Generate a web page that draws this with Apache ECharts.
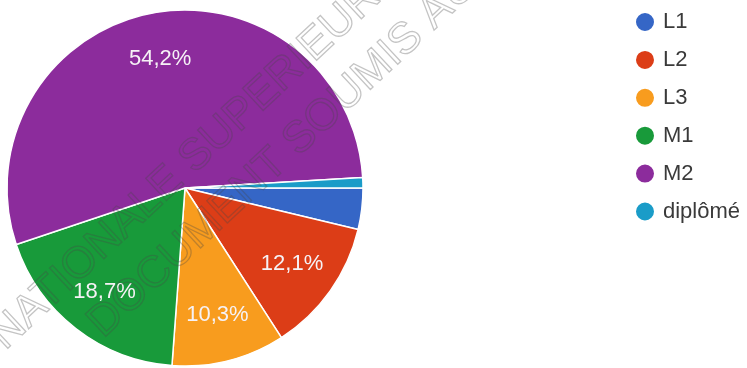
<!DOCTYPE html>
<html>
<head>
<meta charset="utf-8">
<script src="https://cdn.jsdelivr.net/npm/echarts@6/dist/echarts.min.js"></script>
<style>
  html, body { margin: 0; padding: 0; background: #ffffff; }
  #chart { width: 747px; height: 368px; }
</style>
</head>
<body>
<div id="chart"></div>
<script>
// Respondents by level of study (counts)
const categories = ['L1', 'L2', 'L3', 'M1', 'M2', 'diplômé'];
const counts = [4, 13, 11, 20, 58, 1];
const colors = ['#3566c6', '#dc3d17', '#f89c1e', '#189a3a', '#8c2c9c', '#1a9cc8'];

const total = counts.reduce((a, b) => a + b, 0);
const data = categories.map((name, i) => ({ name, value: counts[i] }));

const FONT = '"Liberation Sans", Arial, sans-serif';
const cx = 185, cy = 188, R = 178;
const wmRot = 43 * Math.PI / 180;

function pctLabel(p) {
  const pct = p.value / total * 100;
  if (pct < 5) return '';
  return pct.toFixed(1).replace('.', ',') + '%';
}

function wmText(x, y, text, align) {
  return {
    type: 'text', x: x, y: y, rotation: wmRot, z: 100, silent: true,
    style: {
      text: text, x: 0, y: 0, align: align, verticalAlign: 'bottom',
      font: '44px ' + FONT,
      fill: 'rgba(0,0,0,0)', stroke: 'rgba(70,70,70,0.32)', lineWidth: 1.3
    }
  };
}

const chart = echarts.init(document.getElementById('chart'), null, { renderer: 'canvas' });
chart.setOption({
  backgroundColor: '#ffffff',
  animation: false,
  color: colors,
  legend: {
    orient: 'vertical',
    left: 629,
    top: 6,
    icon: 'circle',
    itemWidth: 20,
    itemHeight: 20,
    itemGap: 15.9,
    data: categories,
    textStyle: { fontFamily: FONT, fontSize: 22, color: '#3a3a3a', lineHeight: 20, padding: [0, 0, 0, 3] }
  },
  series: [
    {
      type: 'pie',
      center: [cx, cy],
      radius: [0, R],
      startAngle: 0,
      clockwise: true,
      data: data,
      label: { show: false },
      labelLine: { show: false },
      itemStyle: { borderColor: '#ffffff', borderWidth: 1.5 },
      emphasis: { disabled: true }
    },
    {
      // label ring: places the percentages at ~72% of the radius
      type: 'pie',
      center: [cx, cy],
      radius: [R * 0.44, R],
      startAngle: 0,
      clockwise: true,
      silent: true,
      data: data,
      itemStyle: { color: 'rgba(0,0,0,0)', borderWidth: 0 },
      label: {
        show: true, position: 'inside', formatter: pctLabel,
        fontFamily: FONT, fontSize: 22, color: '#f6f2f6'
      },
      labelLine: { show: false },
      emphasis: { disabled: true }
    }
  ],
  graphic: [
    wmText(12, 358, 'ÉCOLE ', 'right'),
    wmText(12, 358, 'NATIONALE SUPERIEURE', 'left'),
    wmText(110, 346, 'DOCUMENT SOUMIS AU DROIT D\u2019AUTEUR', 'left')
  ]
});
</script>
</body>
</html>
